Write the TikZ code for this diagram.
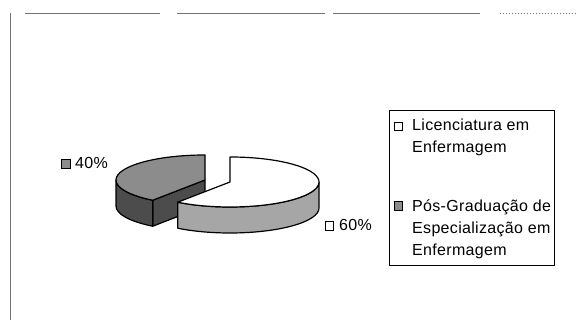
\documentclass[tikz,border=0pt]{standalone}
\usepackage{fontspec}
\setmainfont{Liberation Sans}[LetterSpace=2]
\usetikzlibrary{calc,positioning}
\tikzset{slice/.style={draw, line width=1.2pt, line join=round}}

\begin{document}
\begin{tikzpicture}[x=1pt, y=1pt]
\tikzstyle{lbl} = [inner sep=0pt, anchor=base west, font=\fontsize{16}{22}\selectfont]
\tikzstyle{keybox} = [rectangle, draw, line width=1pt, minimum size=8.5pt, inner sep=0pt]
\useasboundingbox (0,0) rectangle (577,320);

% frame
\draw[black!55, line width=1pt] (10,307) -- (10,0);
\draw[black!55, line width=1pt] (25,306) -- (160,306) (177,306) -- (325,306) (333,306) -- (480,306);
\draw[black!55, line width=1pt, dotted] (500,306) -- (577,306);

\coordinate (c40) at (205,140);
\coordinate (c60) at (230,138);

% 40% slice
\filldraw[slice, fill=black!70] (c40) -- ++(234:89 and 25) -- ++(0,-26) -- ([yshift=-26]c40) -- cycle;
\filldraw[slice, fill=black!70] (c40) ++(180:89 and 25) arc[start angle=180, end angle=234, x radius=89, y radius=25] -- ++(0,-26) arc[start angle=234, end angle=180, x radius=89, y radius=25] -- cycle;
\filldraw[slice, fill=black!45] (c40) -- ++(90:89 and 25) arc[start angle=90, end angle=234, x radius=89, y radius=25] -- cycle;

% 60% slice
\filldraw[slice, fill=black!35] (c60) ++(-126:89 and 25) arc[start angle=-126, end angle=0, x radius=89, y radius=25] -- ++(0,-26) arc[start angle=0, end angle=-126, x radius=89, y radius=25] -- cycle;
\filldraw[slice, fill=white] (c60) -- ++(-126:89 and 25) arc[start angle=-126, end angle=90, x radius=89, y radius=25] -- cycle;

% data labels
\node[keybox, fill=black!45] (k40) at (66,156) {};
\node[lbl] (t40) at (75,151) {40\%};
\node[keybox, fill=white] (k60) at (329.5,94) {};
\node[lbl] (t60) at (339,89) {60\%};

% legend
\node[draw, line width=0.8pt, minimum width=165pt, minimum height=155pt, inner sep=0pt, anchor=north west] (legend) at (389,210) {};
\node[keybox, fill=white] (k1) at (398.5,193.5) {};
\node[lbl] (l1a) at (412,189) {Licenciatura em};
\node[lbl] (l1b) at ([yshift=-22]l1a.base west) {Enfermagem};
\node[keybox, fill=black!45] (k2) at (398.5,114) {};
\node[lbl] (l2a) at (412,108) {Pós-Graduação de};
\node[lbl] (l2b) at ([yshift=-22]l2a.base west) {Especialização em};
\node[lbl] (l2c) at ([yshift=-22]l2b.base west) {Enfermagem};

\end{tikzpicture}
\end{document}
